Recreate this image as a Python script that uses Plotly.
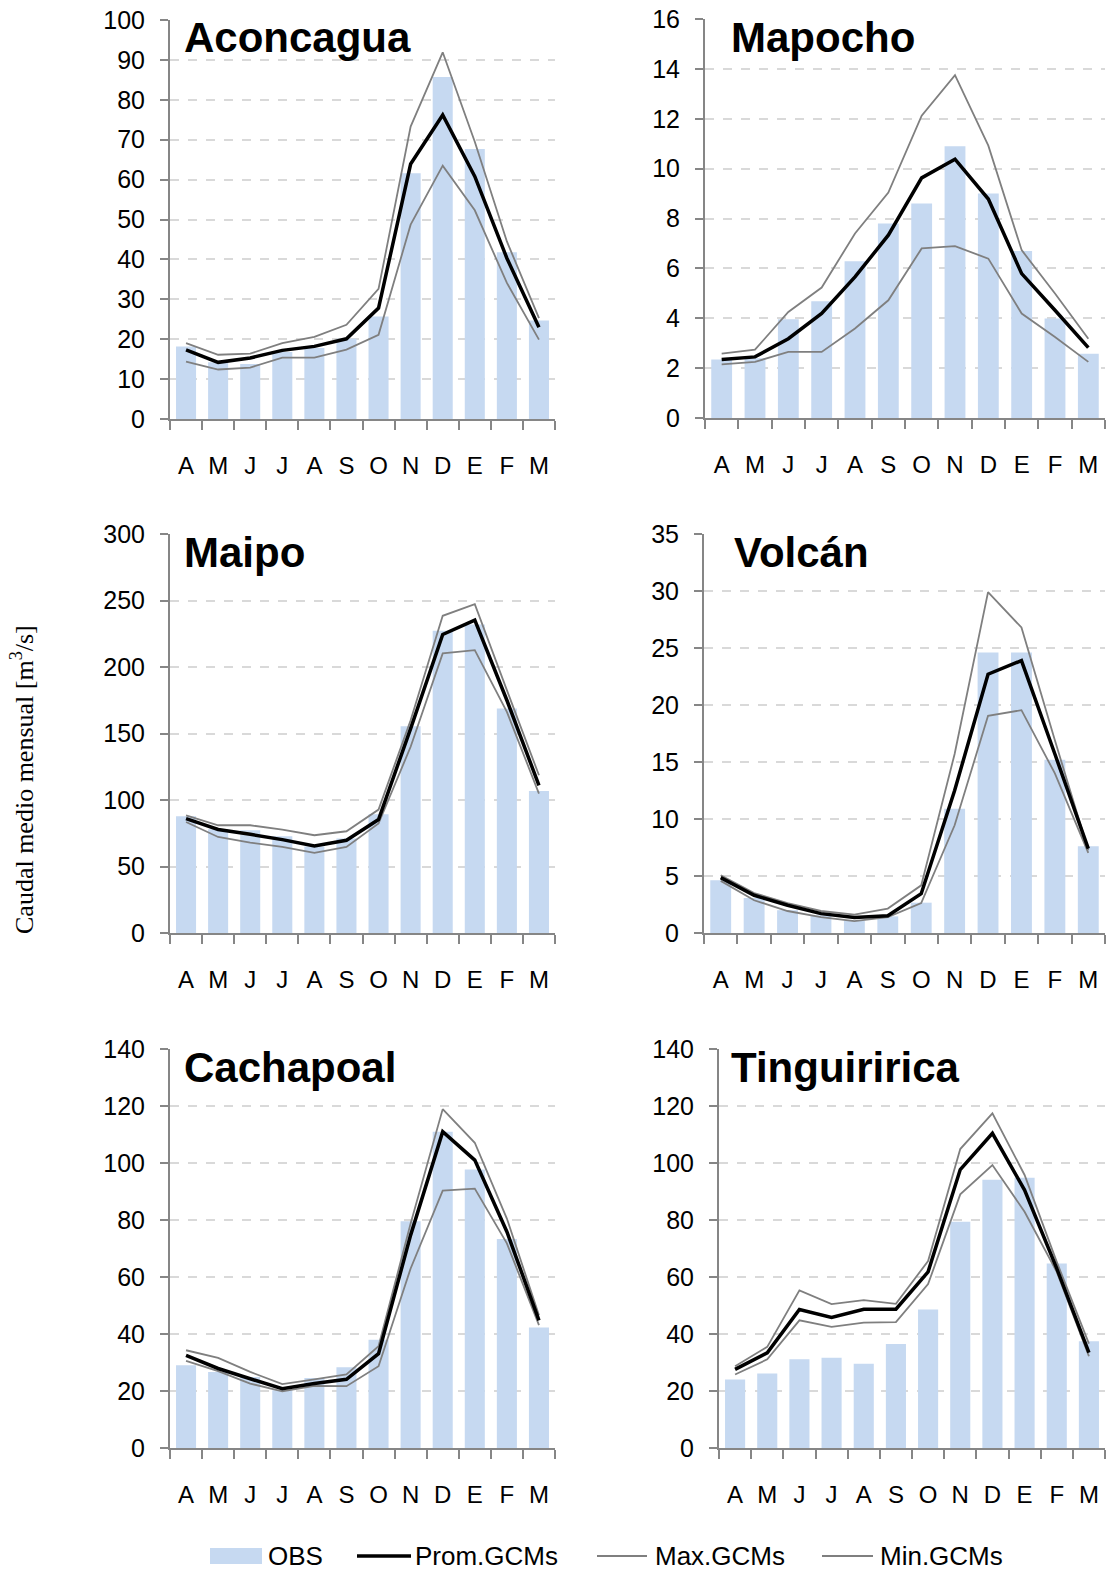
import plotly.graph_objects as go

W, H = 1110, 1574

months = ['A', 'M', 'J', 'J', 'A', 'S', 'O', 'N', 'D', 'E', 'F', 'M']
basins = ['Aconcagua', 'Mapocho', 'Maipo', 'Volcán', 'Cachapoal', 'Tinguiririca']

# observed monthly flows and GCM mean / max / min, m3/s
aconcagua_obs = [18.2, 14.2, 13.8, 16.8, 17.8, 20.1, 25.7, 61.6, 85.7, 67.7, 41.8, 24.7]
aconcagua_prom = [17.3, 14.2, 15.3, 17.2, 18.2, 20.1, 27.8, 63.9, 76.2, 60.8, 40.3, 23.0]
aconcagua_max = [19.0, 16.1, 16.4, 19.0, 20.6, 23.6, 32.6, 73.3, 91.9, 69.5, 44.5, 25.3]
aconcagua_min = [14.4, 12.4, 12.9, 15.4, 15.4, 17.4, 21.1, 48.7, 63.5, 52.3, 34.1, 19.9]

mapocho_obs = [2.35, 2.4, 3.96, 4.68, 6.29, 7.8, 8.6, 10.9, 9.0, 6.7, 3.99, 2.58]
mapocho_prom = [2.35, 2.45, 3.18, 4.19, 5.66, 7.33, 9.63, 10.38, 8.78, 5.79, 4.32, 2.82]
mapocho_max = [2.58, 2.74, 4.25, 5.23, 7.4, 9.04, 12.12, 13.75, 10.92, 6.73, 4.99, 3.18]
mapocho_min = [2.15, 2.25, 2.65, 2.65, 3.59, 4.72, 6.8, 6.89, 6.39, 4.19, 3.25, 2.25]

maipo_obs = [87.8, 78.0, 77.3, 72.7, 65.0, 71.0, 89.3, 155.5, 227.2, 232.0, 168.8, 106.8]
maipo_prom = [86.0, 77.8, 74.2, 70.2, 65.5, 69.7, 85.3, 153.7, 224.5, 235.3, 175.0, 111.0]
maipo_max = [88.5, 81.0, 81.0, 77.8, 73.5, 76.5, 92.8, 160.0, 238.5, 247.3, 182.6, 118.6]
maipo_min = [83.5, 72.2, 68.0, 64.7, 60.2, 64.7, 82.3, 140.0, 210.2, 212.7, 166.3, 104.8]

volcan_obs = [4.62, 3.07, 2.0, 1.55, 1.1, 1.46, 2.66, 10.9, 24.6, 24.6, 15.2, 7.6]
volcan_prom = [4.86, 3.31, 2.43, 1.7, 1.35, 1.52, 3.45, 12.5, 22.7, 23.9, 15.7, 7.4]
volcan_max = [5.06, 3.51, 2.63, 1.93, 1.61, 2.14, 4.18, 15.7, 29.9, 26.8, 16.9, 7.26]
volcan_min = [4.57, 2.87, 1.93, 1.4, 1.05, 1.4, 2.63, 9.45, 19.05, 19.55, 14.0, 7.02]

cachapoal_obs = [29.0, 26.7, 24.9, 20.3, 24.6, 28.3, 38.0, 79.6, 111.0, 97.7, 73.3, 42.3]
cachapoal_prom = [32.5, 27.9, 24.3, 20.8, 22.6, 24.1, 33.1, 74.7, 111.0, 101.0, 75.9, 44.8]
cachapoal_max = [34.3, 31.6, 26.7, 22.4, 24.1, 25.8, 35.7, 78.8, 118.9, 107.1, 80.5, 46.6]
cachapoal_min = [30.6, 27.0, 22.6, 19.9, 21.8, 21.7, 28.7, 63.0, 90.3, 91.0, 71.8, 43.1]

tinguiririca_obs = [24.0, 26.1, 31.1, 31.7, 29.6, 36.5, 48.6, 79.4, 94.1, 94.8, 64.7, 37.5]
tinguiririca_prom = [27.6, 33.4, 48.6, 45.8, 48.7, 48.7, 61.8, 97.7, 110.4, 90.5, 63.0, 33.5]
tinguiririca_max = [28.7, 35.5, 55.3, 50.5, 51.9, 50.6, 65.6, 104.9, 117.4, 95.8, 65.3, 36.6]
tinguiririca_min = [25.8, 31.1, 44.8, 42.5, 44.0, 44.2, 57.5, 89.0, 99.3, 82.9, 61.8, 32.2]

obs = [aconcagua_obs, mapocho_obs, maipo_obs, volcan_obs, cachapoal_obs, tinguiririca_obs]
prom = [aconcagua_prom, mapocho_prom, maipo_prom, volcan_prom, cachapoal_prom, tinguiririca_prom]
gmax = [aconcagua_max, mapocho_max, maipo_max, volcan_max, cachapoal_max, tinguiririca_max]
gmin = [aconcagua_min, mapocho_min, maipo_min, volcan_min, cachapoal_min, tinguiririca_min]

y_top = [100, 16, 300, 35, 140, 140]
y_step = [10, 2, 50, 5, 20, 20]

# panel boxes in pixels: left, right, top, bottom
boxes = [(170, 555, 20, 419), (705, 1105, 19, 418),
         (170, 555, 534, 933), (704, 1105, 534, 933),
         (170, 555, 1049, 1448), (719, 1105, 1049, 1448)]
title_left = [182, 729, 182, 732, 182, 729]

BAR = '#C6D9F1'
GREY = '#7F7F7F'
AXIS = '#868686'
FONT = 'Liberation Sans, Arial, sans-serif'

fig = go.Figure()
x = list(range(12))

for i in range(6):
    xa = 'x' if i == 0 else f'x{i + 1}'
    ya = 'y' if i == 0 else f'y{i + 1}'
    fig.add_trace(go.Bar(x=x, y=obs[i], marker_color=BAR, marker_line_width=0,
                         xaxis=xa, yaxis=ya, showlegend=False))
    fig.add_trace(go.Scatter(x=x, y=gmax[i], mode='lines', line=dict(color=GREY, width=1.8),
                             xaxis=xa, yaxis=ya, showlegend=False))
    fig.add_trace(go.Scatter(x=x, y=gmin[i], mode='lines', line=dict(color=GREY, width=1.8),
                             xaxis=xa, yaxis=ya, showlegend=False))
    fig.add_trace(go.Scatter(x=x, y=prom[i], mode='lines', line=dict(color='black', width=3.5),
                             xaxis=xa, yaxis=ya, showlegend=False))

    l, r, t, b = boxes[i]
    key = '' if i == 0 else str(i + 1)
    fig.layout['xaxis' + key] = dict(
        domain=[l / W, r / W], anchor=ya, range=[-0.5, 11.5],
        tickmode='array', tickvals=x, ticktext=months, ticks='',
        ticklabelstandoff=24, tickfont=dict(family=FONT, size=24, color='black'),
        showline=True, linecolor=AXIS, linewidth=2, showgrid=False, zeroline=False,
        minor=dict(ticks='outside', tickmode='linear', tick0=-0.5, dtick=1,
                   ticklen=9, tickwidth=2, tickcolor=AXIS, showgrid=False),
        automargin=False, fixedrange=True)
    fig.layout['yaxis' + key] = dict(
        domain=[1 - b / H, 1 - t / H], anchor=xa, range=[0, y_top[i]],
        dtick=y_step[i], tick0=0, ticks='outside', ticklen=8, tickwidth=2, tickcolor=AXIS,
        ticklabelstandoff=10, tickfont=dict(family=FONT, size=25, color='black'),
        showline=True, linecolor=AXIS, linewidth=2, zeroline=False,
        showgrid=True, gridcolor='#D9D9D9', gridwidth=1.5, griddash='dash',
        automargin=False, fixedrange=True)
    fig.add_annotation(text='<b>' + basins[i] + '</b>', xref='paper', yref='paper',
                       x=title_left[i] / W, y=1 - (t + 18) / H, xanchor='left', yanchor='middle',
                       showarrow=False, font=dict(family=FONT, size=42, color='black'))

fig.add_annotation(text='Caudal medio mensual [m<sup>3</sup>/s]', xref='paper', yref='paper',
                   x=22 / W, y=1 - 780 / H, textangle=-90, showarrow=False,
                   xanchor='center', yanchor='middle',
                   font=dict(family='Liberation Serif, Times New Roman, serif', size=26, color='black'))

# legend row
LEG_FONT = dict(family='Liberation Sans, Arial, sans-serif', size=26, color='black')
ly = 1 - 1556 / H
fig.add_shape(type='rect', xref='paper', yref='paper', x0=210 / W, x1=262 / W,
              y0=1 - 1564 / H, y1=1 - 1548 / H, fillcolor=BAR, line_width=0)
fig.add_shape(type='line', xref='paper', yref='paper', x0=357 / W, x1=411 / W,
              y0=ly, y1=ly, line=dict(color='black', width=3.5))
fig.add_shape(type='line', xref='paper', yref='paper', x0=597 / W, x1=647 / W,
              y0=ly, y1=ly, line=dict(color=GREY, width=1.8))
fig.add_shape(type='line', xref='paper', yref='paper', x0=822 / W, x1=873 / W,
              y0=ly, y1=ly, line=dict(color=GREY, width=1.8))
for lx, txt in [(266, 'OBS'), (413, 'Prom.GCMs'), (653, 'Max.GCMs'), (878, 'Min.GCMs')]:
    fig.add_annotation(text=txt, xref='paper', yref='paper', x=lx / W, y=ly,
                       xanchor='left', yanchor='middle', showarrow=False, font=LEG_FONT)

fig.update_layout(width=W, height=H, margin=dict(l=0, r=0, t=0, b=0, pad=0, autoexpand=False),
                  paper_bgcolor='white', plot_bgcolor='white',
                  bargap=0.375, showlegend=False)

fig.write_html('out.html', config={'displayModeBar': False},
               post_script="document.body.style.margin='0';")
